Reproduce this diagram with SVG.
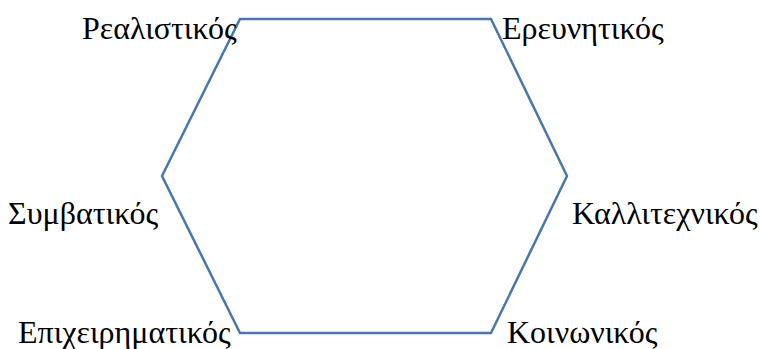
<svg xmlns="http://www.w3.org/2000/svg" width="761" height="349" viewBox="0 0 761 349">
<style>
.lbl{font-family:"Liberation Serif","Times New Roman",serif;font-size:32px;fill:#000}
.hex{fill:none;stroke:#4a76a8;stroke-width:2.5;stroke-linejoin:miter}
</style>
<rect width="761" height="349" fill="#fff"/>
<g id="connectors">
<polygon class="hex" points="240,19 491,19 567,176 491,333 240,333 162,176"/>
</g>
<g id="n1"><text class="lbl" x="82" y="38.5">Ρεαλιστικός</text></g>
<g id="n2"><text class="lbl" x="502" y="38.5">Ερευνητικός</text></g>
<g id="n3"><text class="lbl" x="8" y="224">Συμβατικός</text></g>
<g id="n4"><text class="lbl" x="572" y="224">Καλλιτεχνικός</text></g>
<g id="n5"><text class="lbl" x="18" y="343">Επιχειρηματικός</text></g>
<g id="n6"><text class="lbl" x="507" y="343">Κοινωνικός</text></g>
</svg>
